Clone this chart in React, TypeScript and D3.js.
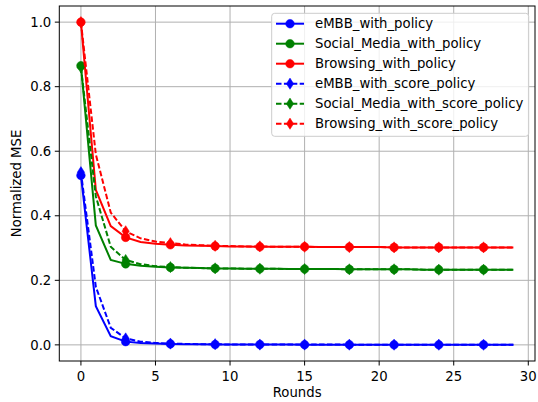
import React from "react";
import * as d3 from "d3";

const rounds: number[] = d3.range(0, 30);
const xTicks = [0, 5, 10, 15, 20, 25, 30];
const yTicks = [0.0, 0.2, 0.4, 0.6, 0.8, 1.0];

const embbPolicy = [0.525, 0.12, 0.027, 0.01, 0.006, 0.004, 0.003, 0.002, 0.002, 0.001, 0.001, 0.001, 0.001, 0.001, 0.001, 0.0005, 0.0005, 0.0005, 0.0005, 0.0005, 0.0003, 0.0003, 0.0003, 0.0003, 0.0003, 0.0002, 0.0002, 0.0002, 0.0002, 0.0002];
const embbScore = [0.535, 0.18, 0.053, 0.02, 0.01, 0.006, 0.004, 0.003, 0.002, 0.002, 0.001, 0.001, 0.001, 0.001, 0.001, 0.001, 0.0008, 0.0008, 0.0007, 0.0007, 0.0006, 0.0006, 0.0005, 0.0005, 0.0005, 0.0004, 0.0004, 0.0004, 0.0004, 0.0004];
const socialPolicy = [0.865, 0.37, 0.263, 0.251, 0.245, 0.242, 0.240, 0.239, 0.238, 0.237, 0.237, 0.236, 0.236, 0.236, 0.235, 0.235, 0.235, 0.235, 0.234, 0.234, 0.234, 0.234, 0.234, 0.233, 0.233, 0.233, 0.233, 0.233, 0.233, 0.233];
const socialScore = [0.86, 0.46, 0.304, 0.263, 0.25, 0.244, 0.241, 0.239, 0.238, 0.237, 0.237, 0.236, 0.236, 0.236, 0.235, 0.235, 0.235, 0.235, 0.234, 0.234, 0.234, 0.234, 0.234, 0.233, 0.233, 0.233, 0.233, 0.233, 0.233, 0.233];
const browsingPolicy = [1.0, 0.48, 0.368, 0.333, 0.319, 0.313, 0.310, 0.308, 0.307, 0.306, 0.305, 0.305, 0.304, 0.304, 0.304, 0.304, 0.303, 0.303, 0.303, 0.303, 0.303, 0.302, 0.302, 0.302, 0.302, 0.302, 0.302, 0.302, 0.302, 0.302];
const browsingScore = [1.0, 0.59, 0.41, 0.352, 0.33, 0.32, 0.315, 0.311, 0.309, 0.307, 0.306, 0.305, 0.305, 0.304, 0.304, 0.304, 0.303, 0.303, 0.303, 0.303, 0.303, 0.302, 0.302, 0.302, 0.302, 0.302, 0.302, 0.302, 0.302, 0.302];

const seriesNames = [
  "eMBB_with_policy",
  "Social_Media_with_policy",
  "Browsing_with_policy",
  "eMBB_with_score_policy",
  "Social_Media_with_score_policy",
  "Browsing_with_score_policy",
];
const seriesValues = [embbPolicy, socialPolicy, browsingPolicy, embbScore, socialScore, browsingScore];
const seriesColors = ["#0000ff", "#008000", "#ff0000", "#0000ff", "#008000", "#ff0000"];
const seriesDashed = [false, false, false, true, true, true];

const W = 538;
const H = 402;
const margin = { left: 59.3, right: 3, top: 6, bottom: 41 };
const FONT = "DejaVu Sans, sans-serif";
const FS = 13.25;

function Marker({ x, y, dashed, color }: { x: number; y: number; dashed: boolean; color: string }) {
  if (!dashed) return <circle cx={x} cy={y} r={4.3} fill={color} stroke={color} strokeWidth={0.5} />;
  const h = 5.6, w = 3.6;
  return (
    <path
      d={`M${x},${y - h}L${x + w},${y}L${x},${y + h}L${x - w},${y}Z`}
      fill={color}
      stroke={color}
      strokeWidth={0.5}
    />
  );
}

export default function App() {
  const x = d3.scaleLinear().domain([-1.45, 30.45]).range([margin.left, W - margin.right]);
  const y = d3.scaleLinear().domain([-0.05, 1.05]).range([H - margin.bottom, margin.top]);
  const line = d3
    .line<number>()
    .x((_, i) => x(rounds[i]))
    .y((d) => y(d));
  const x0 = x.range()[0], x1 = x.range()[1];
  const y0 = y.range()[0], y1 = y.range()[1];

  const legX = 271.7, legY = 13.3, legW = 257, legH = 123;
  return (
    <svg width={W} height={H} style={{ position: "absolute", left: 0, top: 0 }} fontFamily={FONT}>
      <rect width={W} height={H} fill="#fff" />
      {xTicks.map((t) => (
        <line key={"gx" + t} x1={x(t)} x2={x(t)} y1={y0} y2={y1} stroke="#b0b0b0" strokeWidth={1} />
      ))}
      {yTicks.map((t) => (
        <line key={"gy" + t} x1={x0} x2={x1} y1={y(t)} y2={y(t)} stroke="#b0b0b0" strokeWidth={1} />
      ))}
      {seriesValues.map((vals, si) => (
        <g key={seriesNames[si]}>
          <path
            d={line(vals) || ""}
            fill="none"
            stroke={seriesColors[si]}
            strokeWidth={2}
            strokeDasharray={seriesDashed[si] ? "5.5,2.4" : undefined}
          />
          {vals.map((v, i) =>
            i % 3 === 0 ? (
              <Marker key={i} x={x(rounds[i])} y={y(v)} dashed={seriesDashed[si]} color={seriesColors[si]} />
            ) : null
          )}
        </g>
      ))}
      <rect x={x0} y={y1} width={x1 - x0} height={y0 - y1} fill="none" stroke="#000" strokeWidth={1} />
      {xTicks.map((t) => (
        <g key={"tx" + t}>
          <line x1={x(t)} x2={x(t)} y1={y0} y2={y0 + 4.5} stroke="#000" strokeWidth={1} />
          <text x={x(t)} y={y0 + 20} fontSize={FS} textAnchor="middle" fill="#000">
            {t}
          </text>
        </g>
      ))}
      {yTicks.map((t) => (
        <g key={"ty" + t}>
          <line x1={x0 - 4.5} x2={x0} y1={y(t)} y2={y(t)} stroke="#000" strokeWidth={1} />
          <text x={x0 - 8} y={y(t)} dy="0.35em" fontSize={FS} textAnchor="end" fill="#000">
            {t.toFixed(1)}
          </text>
        </g>
      ))}
      <text x={(x0 + x1) / 2} y={397} fontSize={FS} textAnchor="middle" fill="#000">
        Rounds
      </text>
      <text
        transform={`translate(21,${(y0 + y1) / 2}) rotate(-90)`}
        fontSize={FS}
        textAnchor="middle"
        fill="#000"
      >
        Normalized MSE
      </text>
      <rect x={legX} y={legY} width={legW} height={legH} rx={3} fill="#fff" fillOpacity={0.8} stroke="#cccccc" strokeWidth={1} />
      {seriesNames.map((name, i) => {
        const cy = 23.7 + i * 20;
        return (
          <g key={"leg" + name}>
            <line
              x1={276}
              x2={304}
              y1={cy}
              y2={cy}
              stroke={seriesColors[i]}
              strokeWidth={2}
              strokeDasharray={seriesDashed[i] ? "5.5,2.4" : undefined}
            />
            <Marker x={290} y={cy} dashed={seriesDashed[i]} color={seriesColors[i]} />
            <text x={315} y={cy} dy="0.35em" fontSize={FS} fill="#000">
              {name}
            </text>
          </g>
        );
      })}
    </svg>
  );
}
